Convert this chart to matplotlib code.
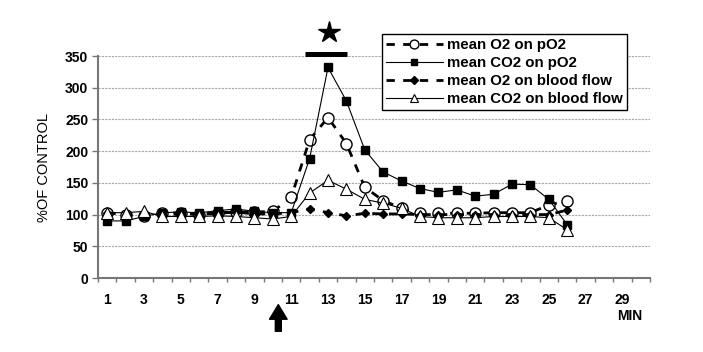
import matplotlib
matplotlib.use('Agg')
import matplotlib.pyplot as plt
import numpy as np

plt.rcParams['font.family'] = ['Liberation Sans', 'DejaVu Sans']

minutes = np.arange(1, 27)
o2_po2 = [103, 100, 97, 102, 103, 100, 103, 104, 104, 105, 127, 218, 253, 212,
          143, 122, 110, 102, 102, 102, 102, 103, 103, 103, 115, 122]
co2_po2 = [90, 90, 97, 103, 104, 103, 106, 109, 105, 103, 103, 188, 332, 279,
           202, 167, 153, 141, 135, 139, 129, 132, 148, 147, 124, 84]
o2_flow = [103, 100, 100, 101, 100, 101, 102, 104, 101, 101, 103, 109, 103, 98,
           102, 101, 101, 100, 100, 100, 100, 100, 100, 100, 100, 107]
co2_flow = [103, 103, 105, 97, 97, 97, 98, 97, 95, 93, 97, 134, 154, 140,
            124, 118, 110, 97, 95, 95, 95, 97, 97, 97, 95, 76]
tick_labels = [str(i) for i in range(1, 30, 2)]

fig = plt.figure(figsize=(7.03, 3.52), dpi=100)
ax = fig.add_axes([98 / 703, 1 - 278 / 352, 552 / 703, 222 / 352])

ax.plot(minutes, o2_po2, color='black', lw=2, dashes=(3, 3), marker='o', ms=8,
        mfc='white', mec='black', mew=1, label='mean O2 on pO2')
ax.plot(minutes, co2_po2, color='black', lw=0.8, marker='s', ms=6,
        mfc='black', mec='black', label='mean CO2 on pO2')
ax.plot(minutes, o2_flow, color='black', lw=2, dashes=(3, 3), marker='D', ms=4.5,
        mfc='black', mec='black', label='mean O2 on blood flow')
ax.plot(minutes, co2_flow, color='black', lw=0.8, marker='^', ms=8,
        mfc='white', mec='black', mew=0.8, label='mean CO2 on blood flow')

ax.set_xlim(0.5, 30.5)
ax.set_ylim(0, 350)
ax.set_yticks(np.arange(0, 351, 50))
ax.set_xticks(np.arange(0.5, 30.6, 1))
ax.set_xticklabels([])
ax.set_xticks(np.arange(1, 30, 2), minor=True)
ax.set_xticklabels(tick_labels, minor=True, fontweight='bold', fontsize=10)
ax.tick_params(axis='x', which='minor', length=0, pad=11)
ax.tick_params(axis='x', which='major', length=3, color='#777777', width=1)
ax.tick_params(axis='y', length=4, color='#777777', width=1, labelsize=10, pad=3)
for lab in ax.get_yticklabels():
    lab.set_fontweight('bold')

for y in range(50, 351, 50):
    ax.axhline(y, color='#a8a8a8', lw=0.8, dashes=(2, 1), zorder=0)

for s in ['top', 'right']:
    ax.spines[s].set_visible(False)
for s in ['left', 'bottom']:
    ax.spines[s].set_color('#777777')
    ax.spines[s].set_linewidth(1.5)

ax.set_ylabel('%OF CONTROL', fontsize=10.5)
ax.yaxis.set_label_coords(-0.085, 0.5)
ax.text(29.4, -0.17, 'MIN', transform=ax.get_xaxis_transform(), ha='center',
        va='center', fontweight='bold', fontsize=10)

# significance marker
ax.plot([11.75, 14.03], [353, 353], color='black', lw=3.6, solid_capstyle='butt',
        clip_on=False)
ax.plot(13.05, 388, marker='*', ms=16, color='black', clip_on=False)

# stimulus arrow
ax.annotate('', xy=(10.3, -0.12), xytext=(10.3, -0.24),
            xycoords=('data', 'axes fraction'),
            textcoords=('data', 'axes fraction'),
            arrowprops=dict(width=4.3, headwidth=12.7, headlength=10.5,
                            color='black', shrink=0))

leg = ax.legend(loc='upper left', bbox_to_anchor=(382 / 703, 1 - 34 / 352),
                bbox_transform=fig.transFigure, prop={'weight': 'bold', 'size': 10.8},
                frameon=True, fancybox=False, framealpha=1, edgecolor='black',
                borderpad=0.25, labelspacing=0.28, handlelength=3.8,
                handletextpad=0.3, borderaxespad=0, markerscale=0.8)
leg.get_frame().set_linewidth(1)

fig.savefig('out.png', dpi=100)
